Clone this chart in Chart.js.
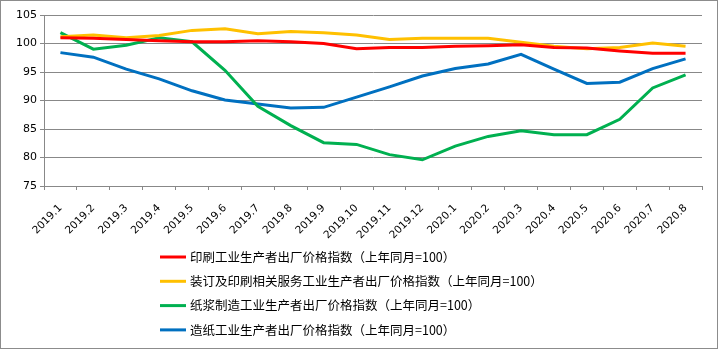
<!DOCTYPE html>
<html>
<head>
<meta charset="utf-8">
<script src="https://cdn.jsdelivr.net/npm/chart.js@4"></script>
<style>
  html, body { margin: 0; padding: 0; background: #fff; }
  #wrap { width: 718px; height: 349px; position: relative; }
</style>
</head>
<body>
<div id="wrap"><canvas id="c" width="718" height="349"></canvas></div>
<script>
// Months, Jan 2019 – Aug 2020
const months = ['2019.1','2019.2','2019.3','2019.4','2019.5','2019.6','2019.7','2019.8','2019.9','2019.10',
                '2019.11','2019.12','2020.1','2020.2','2020.3','2020.4','2020.5','2020.6','2020.7','2020.8'];

const seriesNames = [
  '印刷工业生产者出厂价格指数（上年同月=100）',
  '装订及印刷相关服务工业生产者出厂价格指数（上年同月=100）',
  '纸浆制造工业生产者出厂价格指数（上年同月=100）',
  '造纸工业生产者出厂价格指数（上年同月=100）'
];

// Producer price indices (same month of previous year = 100)
const printing = [101.0, 100.9, 100.7, 100.5, 100.3, 100.3, 100.5, 100.3, 100.0, 99.1,
                  99.3, 99.3, 99.5, 99.6, 99.8, 99.3, 99.2, 98.7, 98.3, 98.3];
const bindingServices = [101.2, 101.5, 101.0, 101.4, 102.3, 102.6, 101.7, 102.1, 101.9, 101.5,
                         100.7, 100.9, 100.9, 100.9, 100.2, 99.5, 99.1, 99.3, 100.1, 99.5];
const pulp = [101.9, 99.0, 99.7, 101.0, 100.3, 95.3, 89.0, 85.6, 82.6, 82.3,
              80.5, 79.6, 82.0, 83.7, 84.7, 84.0, 84.0, 86.7, 92.2, 94.5];
const paper = [98.4, 97.6, 95.5, 93.8, 91.7, 90.1, 89.4, 88.7, 88.8, 90.6,
               92.4, 94.3, 95.6, 96.4, 98.1, 95.5, 93.0, 93.2, 95.6, 97.3];

const yTicks = [75, 80, 85, 90, 95, 100, 105];

const colors = ['#FF0000', '#FFC000', '#00B050', '#0070C0'];
const values = [printing, bindingServices, pulp, paper];

const gridGray = '#888888';

// Legend stacked as one entry per row under the plot
const stackedLegend = {
  id: 'stackedLegend',
  afterDraw(chart) {
    const ctx = chart.ctx;
    ctx.save();
    ctx.font = '12.5px "Noto Sans CJK SC", sans-serif';
    ctx.textBaseline = 'middle';
    ctx.textAlign = 'left';
    chart.data.datasets.forEach((ds, i) => {
      const y = 257 + i * 24.3;
      ctx.strokeStyle = ds.borderColor;
      ctx.lineWidth = 3;
      ctx.beginPath();
      ctx.moveTo(160, y);
      ctx.lineTo(186, y);
      ctx.stroke();
      ctx.fillStyle = '#000';
      ctx.fillText(ds.label, 190, y);
    });
    ctx.restore();
  }
};

// Outer frame around the whole chart
const frame = {
  id: 'frame',
  afterDraw(chart) {
    const ctx = chart.ctx;
    ctx.save();
    ctx.strokeStyle = '#8c8c8c';
    ctx.lineWidth = 1;
    ctx.strokeRect(0.5, 0.5, chart.width - 1, chart.height - 1);
    ctx.restore();
  }
};

new Chart(document.getElementById('c'), {
  type: 'line',
  data: {
    labels: months,
    datasets: seriesNames.map((name, i) => ({
      label: name,
      data: values[i],
      borderColor: colors[i],
      backgroundColor: colors[i],
      borderWidth: 3,
      pointRadius: 0,
      tension: 0,
      fill: false
    }))
  },
  options: {
    responsive: false,
    animation: false,
    devicePixelRatio: 1,
    layout: { padding: { top: 15, right: 16, bottom: 0, left: 0 } },
    plugins: {
      legend: { display: false },
      tooltip: { enabled: false }
    },
    scales: {
      x: {
        offset: true,
        grid: {
          offset: true,
          drawOnChartArea: false,
          drawTicks: true,
          tickLength: 4,
          color: gridGray
        },
        border: { display: true, color: gridGray },
        ticks: {
          autoSkip: false,
          maxRotation: 45,
          minRotation: 45,
          padding: 12,
          color: '#000',
          font: { family: '"DejaVu Sans", sans-serif', size: 10.5 }
        },
        afterFit(scale) { scale.height = 163; }
      },
      y: {
        min: 75,
        max: 105,
        afterBuildTicks(scale) { scale.ticks = yTicks.map(v => ({ value: v })); },
        grid: { color: gridGray, tickLength: 4 },
        border: { display: true, color: gridGray },
        ticks: {
          padding: 3,
          color: '#000',
          font: { family: '"DejaVu Sans", sans-serif', size: 11 }
        },
        afterFit(scale) { scale.width = 44; }
      }
    }
  },
  plugins: [stackedLegend, frame]
});
</script>
</body>
</html>
